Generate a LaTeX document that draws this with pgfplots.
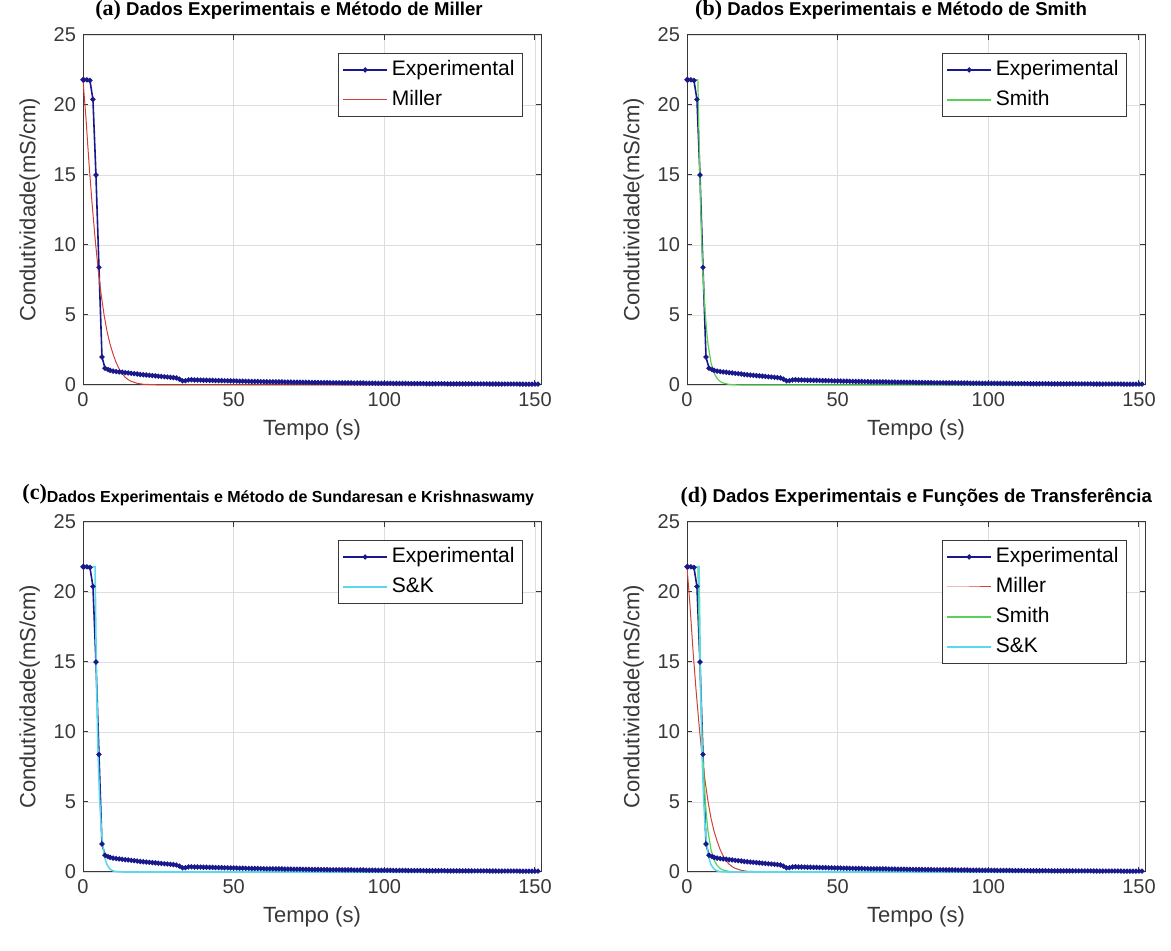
\documentclass[border=0pt]{standalone}
\usepackage{pgfplots}
\pgfplotsset{compat=1.18}
\usepackage{pgfplotstable}
\usepackage{fontspec}
\setmainfont{Liberation Sans}
\newfontfamily\serifbf{Liberation Serif}

\definecolor{expc}{rgb}{0.1,0.1,0.55}
\definecolor{millc}{rgb}{0.82,0.25,0.2}
\definecolor{smithc}{rgb}{0.35,0.82,0.35}
\definecolor{skc}{rgb}{0.35,0.85,0.92}
\definecolor{gridc}{rgb}{0.87,0.87,0.87}
\definecolor{axc}{rgb}{0.22,0.22,0.22}

\pgfplotstableread[row sep=\\]{
t y\\
0 21.8\\ 0.3 21.8\\ 1.3 21.8\\ 2.3 21.75\\ 3.3 20.4\\ 4.3 15.0\\ 5.3 8.4\\ 6.3 2.0\\ 7.3 1.2\\ 8.3 1.1\\
9 1.04\\ 10 0.99\\ 11 0.96\\ 12 0.93\\ 13 0.91\\ 14 0.88\\ 15 0.86\\ 16 0.83\\ 17 0.81\\ 18 0.78\\
19 0.75\\ 20 0.73\\ 21 0.71\\ 22 0.69\\ 23 0.67\\ 24 0.65\\ 25 0.63\\ 26 0.61\\ 27 0.59\\ 28 0.57\\
29 0.55\\ 30 0.53\\ 31 0.50\\ 32 0.42\\ 33 0.30\\ 34 0.31\\ 35 0.36\\ 36 0.37\\ 37 0.36\\ 38 0.36\\
39 0.35\\ 40 0.34\\ 41 0.34\\ 42 0.33\\ 43 0.33\\ 44 0.32\\ 45 0.31\\ 46 0.31\\ 47 0.30\\ 48 0.30\\
49 0.29\\ 50 0.29\\ 51 0.28\\ 52 0.27\\ 53 0.27\\ 54 0.26\\ 55 0.26\\ 56 0.25\\ 57 0.25\\ 58 0.25\\
59 0.24\\ 60 0.24\\ 61 0.23\\ 62 0.23\\ 63 0.23\\ 64 0.22\\ 65 0.22\\ 66 0.22\\ 67 0.21\\ 68 0.21\\
69 0.21\\ 70 0.20\\ 71 0.20\\ 72 0.20\\ 73 0.19\\ 74 0.19\\ 75 0.19\\ 76 0.18\\ 77 0.18\\ 78 0.18\\
79 0.17\\ 80 0.17\\ 81 0.17\\ 82 0.16\\ 83 0.16\\ 84 0.16\\ 85 0.16\\ 86 0.15\\ 87 0.15\\ 88 0.15\\
89 0.15\\ 90 0.14\\ 91 0.14\\ 92 0.14\\ 93 0.14\\ 94 0.13\\ 95 0.13\\ 96 0.13\\ 97 0.13\\ 98 0.12\\
99 0.12\\ 100 0.12\\ 101 0.12\\ 102 0.12\\ 103 0.11\\ 104 0.11\\ 105 0.11\\ 106 0.11\\ 107 0.11\\ 108 0.10\\
109 0.10\\ 110 0.10\\ 111 0.10\\ 112 0.10\\ 113 0.10\\ 114 0.09\\ 115 0.09\\ 116 0.09\\ 117 0.09\\ 118 0.09\\
119 0.09\\ 120 0.09\\ 121 0.08\\ 122 0.08\\ 123 0.08\\ 124 0.08\\ 125 0.08\\ 126 0.08\\ 127 0.08\\ 128 0.08\\
129 0.08\\ 130 0.08\\ 131 0.08\\ 132 0.08\\ 133 0.08\\ 134 0.08\\ 135 0.07\\ 136 0.07\\ 137 0.07\\ 138 0.07\\
139 0.07\\ 140 0.07\\ 141 0.07\\ 142 0.07\\ 143 0.07\\ 144 0.07\\ 145 0.06\\ 146 0.06\\ 147 0.06\\ 148 0.06\\
149 0.06\\ 150 0.06\\ 151 0.06\\
}\expdata

\pgfplotstableread[row sep=\\]{
t y\\
0 21.8\\ 1 19.0\\ 2 15.8\\ 3 13.0\\ 4 10.5\\ 5 8.3\\ 6 6.5\\ 7 5.0\\ 8 3.8\\ 9 2.9\\ 10 2.2\\
11 1.6\\ 12 1.15\\ 13 0.8\\ 14 0.55\\ 15 0.38\\ 16 0.26\\ 18 0.12\\ 20 0.05\\ 25 0.01\\ 30 0\\ 151 0\\
}\millerdata

\pgfplotstableread[row sep=\\]{
t y\\
0 21.8\\ 3.6 21.8\\ 4 17.6\\ 4.5 13.0\\ 5 9.6\\ 5.5 7.1\\ 6 5.25\\ 6.5 3.9\\ 7 2.86\\ 8 1.56\\
9 0.85\\ 10 0.46\\ 11 0.25\\ 12 0.14\\ 14 0.04\\ 16 0.01\\ 20 0\\ 151 0\\
}\smithdata

\pgfplotstableread[row sep=\\]{
t y\\
0 21.8\\ 4.0 21.8\\ 4.5 13.4\\ 5 8.4\\ 5.5 5.3\\ 6 3.3\\ 6.5 2.07\\ 7 1.3\\ 7.5 0.82\\ 8 0.51\\
9 0.2\\ 10 0.08\\ 11 0.03\\ 12 0.01\\ 14 0\\ 151 0\\
}\skdata

\newcommand{\tpre}[1]{{\serifbf\bfseries\fontsize{11}{13}\selectfont #1}}

\pgfplotsset{
  panel/.style={
    scale only axis, width=229pt, height=175pt,
    xmin=0, xmax=152, ymin=0, ymax=25,
    xtick={0,50,100,150}, ytick={0,5,10,15,20,25},
    grid=major, major grid style={gridc, line width=0.4pt},
    axis line style={axc, line width=0.5pt},
    tick style={axc, line width=0.5pt}, tick align=inside, major tick length=2.5pt,
    xtick pos=both, ytick pos=both,
    tick label style={font=\fontsize{10}{12}\selectfont, text=axc},
    /pgf/number format/assume math mode=true,
    label style={font=\fontsize{11}{13}\selectfont, text=axc},
    xlabel={Tempo (s)}, ylabel={Condutividade(mS/cm)},
    legend style={at={(0.9607,0.9486)}, anchor=north east, draw=axc, line width=0.5pt,
      font=\fontsize{10.5}{12}\selectfont, inner xsep=2pt, inner ysep=3pt, row sep=4.5pt,
      nodes={inner xsep=2pt, inner ysep=0pt, text height=8pt, text depth=2.5pt}},
    legend cell align=left,
    legend image code/.code={\draw[mark repeat=2,mark phase=2,##1] plot coordinates {(0pt,0pt) (11pt,0pt) (22pt,0pt)};},
    clip=false,
    title style={anchor=base west, inner sep=0pt, yshift=3.5pt, font=\bfseries\fontsize{9.3}{11}\selectfont, text=black},
  },
  expst/.style={color=expc, line width=0.8pt, mark=*, mark size=0.85pt, mark options={solid}},
  millst/.style={color=millc, line width=0.5pt, no markers},
  smithst/.style={color=smithc, line width=0.6pt, no markers},
  skst/.style={color=skc, line width=0.8pt, no markers},
}

\begin{document}
\begin{tikzpicture}
\useasboundingbox (0,0) rectangle (585.5pt,475.5pt);

% (a)
\begin{axis}[panel, at={(41.5pt,283pt)}, anchor=south west,
  title={\tpre{(a)} Dados Experimentais e Método de Miller},
  title style={at={(0.026,1)}}]
\addplot[expst] table[x=t,y=y]{\expdata};
\addlegendentry{Experimental}
\addplot[millst] table[x=t,y=y]{\millerdata};
\addlegendentry{Miller}
\end{axis}

% (b)
\begin{axis}[panel, at={(343.5pt,283pt)}, anchor=south west,
  title={\tpre{(b)} Dados Experimentais e Método de Smith},
  title style={at={(0.017,1)}}]
\addplot[expst] table[x=t,y=y]{\expdata};
\addlegendentry{Experimental}
\addplot[smithst] table[x=t,y=y]{\smithdata};
\addlegendentry{Smith}
\end{axis}

% (c)
\begin{axis}[panel, at={(41.5pt,39.5pt)}, anchor=south west,
  title={\raisebox{1.5pt}{\tpre{(c)}}{\fontsize{8}{10}\selectfont Dados Experimentais e Método de Sundaresan e Krishnaswamy}},
  title style={at={(-0.133,1)}}]
\addplot[expst] table[x=t,y=y]{\expdata};
\addlegendentry{Experimental}
\addplot[skst] table[x=t,y=y]{\skdata};
\addlegendentry{S\&K}
\end{axis}

% (d)
\begin{axis}[panel, at={(343.5pt,39.5pt)}, anchor=south west,
  title={\tpre{(d)} Dados Experimentais e Funções de Transferência},
  title style={at={(-0.015,1)}}]
\addplot[expst] table[x=t,y=y]{\expdata};
\addlegendentry{Experimental}
\addplot[millst] table[x=t,y=y]{\millerdata};
\addlegendentry{Miller}
\addplot[smithst] table[x=t,y=y]{\smithdata};
\addlegendentry{Smith}
\addplot[skst] table[x=t,y=y]{\skdata};
\addlegendentry{S\&K}
\end{axis}
\end{tikzpicture}
\end{document}
